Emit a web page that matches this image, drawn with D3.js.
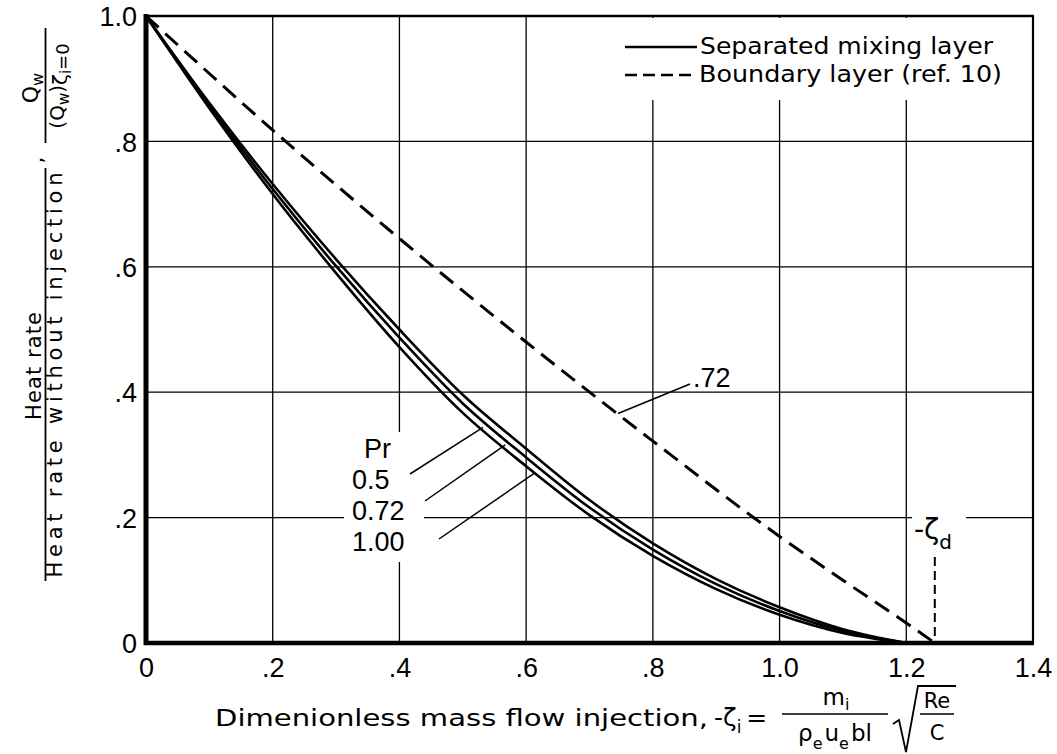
<!DOCTYPE html>
<html>
<head>
<meta charset="utf-8" />
<title>Heat rate vs injection</title>
<script src="https://d3js.org/d3.v7.min.js"></script>
<style>
body{margin:0;background:#fff;}
text{font-family:"Liberation Sans",Arial,sans-serif;fill:#000;}
text.lbl{font-family:"DejaVu Sans",sans-serif;}
</style>
</head>
<body>
<div id="chart"></div>
<script>
// tick values and labels
var xTicks=[0,0.2,0.4,0.6,0.8,1.0,1.2,1.4];
var xTickLabels=["0",".2",".4",".6",".8","1.0","1.2","1.4"];
var yTicks=[0,0.2,0.4,0.6,0.8,1.0];
var yTickLabels=["0",".2",".4",".6",".8","1.0"];

// separated mixing layer, one curve per Prandtl number
var zeta=[0,0.1,0.2,0.3,0.4,0.5,0.6,0.7,0.8,0.9,1.0,1.1,1.2];
var pr050=[1,0.861,0.732,0.612,0.5,0.396,0.31,0.228,0.159,0.102,0.057,0.022,0];
var pr072=[1,0.857,0.724,0.601,0.487,0.382,0.296,0.216,0.149,0.094,0.051,0.019,0];
var pr100=[1,0.853,0.716,0.59,0.472,0.367,0.282,0.204,0.139,0.086,0.045,0.016,0];
var prNames=["0.5","0.72","1.00"];
var prTips=[[0.532,0.344],[0.567,0.316],[0.612,0.27]];

// boundary layer (ref. 10), Pr = .72
var blZeta=[0,0.2,0.4,0.6,0.8,1.0,1.1,1.2,1.245];
var blRatio=[1,0.818,0.645,0.48,0.322,0.17,0.1,0.032,0];
var blTip=[0.745,0.366];
var zetaD=1.245;

var W=1057,H=754;
var x=d3.scaleLinear().domain([0,1.4]).range([146,1033]);
var y=d3.scaleLinear().domain([0,1]).range([643,16]);

var svg=d3.select("#chart").append("svg").attr("width",W).attr("height",H);
svg.append("rect").attr("width",W).attr("height",H).attr("fill","#fff");

// grid
svg.append("g").selectAll("line").data(xTicks.slice(1,-1)).enter().append("line")
	.attr("x1",d=>x(d)).attr("x2",d=>x(d)).attr("y1",y(1)).attr("y2",y(0))
	.attr("stroke","#000").attr("stroke-width",1.3);
svg.append("g").selectAll("line").data(yTicks.slice(1,-1)).enter().append("line")
	.attr("x1",x(0)).attr("x2",x(1.4)).attr("y1",d=>y(d)).attr("y2",d=>y(d))
	.attr("stroke","#000").attr("stroke-width",1.3);

// white patches under legend and labels
svg.append("rect").attr("x",615).attr("y",18).attr("width",416).attr("height",82).attr("fill","#fff");
svg.append("rect").attr("x",344).attr("y",432).attr("width",80).attr("height",130).attr("fill","#fff");
svg.append("rect").attr("x",912).attr("y",510).attr("width",54).attr("height",46).attr("fill","#fff");

// frame
svg.append("line").attr("x1",x(0)).attr("x2",x(0)).attr("y1",y(1)-2).attr("y2",y(0)+2).attr("stroke","#000").attr("stroke-width",5);
svg.append("line").attr("x1",x(0)-2).attr("x2",x(1.4)+1).attr("y1",y(0)).attr("y2",y(0)).attr("stroke","#000").attr("stroke-width",4.5);
svg.append("line").attr("x1",x(0)).attr("x2",x(1.4)+1).attr("y1",y(1)).attr("y2",y(1)).attr("stroke","#000").attr("stroke-width",2.5);
svg.append("line").attr("x1",x(1.4)).attr("x2",x(1.4)).attr("y1",y(1)).attr("y2",y(0)).attr("stroke","#000").attr("stroke-width",2.2);

// axes labels
var xAxis=d3.axisBottom(x).tickValues(xTicks).tickFormat((d,i)=>xTickLabels[i]).tickSize(0).tickPadding(0);
var gx=svg.append("g").attr("transform","translate(0,"+y(0)+")").call(xAxis);
gx.select(".domain").remove();
gx.attr("font-size",27).attr("font-family","Liberation Sans, Arial, sans-serif");
gx.selectAll("text").attr("y",34).attr("dy",null).attr("fill","#000");

var yAxis=d3.axisLeft(y).tickValues(yTicks).tickFormat((d,i)=>yTickLabels[i]).tickSize(0).tickPadding(0);
var gy=svg.append("g").attr("transform","translate("+(x(0)-9)+",0)").call(yAxis);
gy.select(".domain").remove();
gy.attr("font-size",27).attr("font-family","Liberation Sans, Arial, sans-serif");
gy.selectAll("text").attr("x",0).attr("dy","0.36em").attr("fill","#000");

// curves
var line=d3.line().x(d=>x(d[0])).y(d=>y(d[1])).curve(d3.curveMonotoneX);
[pr050,pr072,pr100].forEach(function(s){
	svg.append("path").datum(zeta.map((z,i)=>[z,s[i]]))
		.attr("d",line).attr("fill","none").attr("stroke","#000").attr("stroke-width",2.6);
});
svg.append("path").datum(blZeta.map((z,i)=>[z,blRatio[i]]))
	.attr("d",line).attr("fill","none").attr("stroke","#000").attr("stroke-width",3)
	.attr("stroke-dasharray","17,9");

// zeta_d marker
svg.append("line").attr("x1",x(zetaD)).attr("x2",x(zetaD)).attr("y1",557).attr("y2",y(0))
	.attr("stroke","#000").attr("stroke-width",2).attr("stroke-dasharray","9,5");
var zd=svg.append("text").attr("class","lbl").attr("x",914).attr("y",539).attr("font-size",28);
zd.append("tspan").text("-ζ");
zd.append("tspan").attr("dy",10).attr("font-size",20).text("d");

// Pr labels and leaders
svg.append("text").attr("x",364).attr("y",458).attr("font-size",27).text("Pr");
var prLabelY=[489,520,551];
var prStart=[[410,474],[425,501],[439,539]];
prNames.forEach(function(n,i){
	svg.append("text").attr("x",352).attr("y",prLabelY[i]).attr("font-size",27).text(n);
	svg.append("line").attr("x1",prStart[i][0]).attr("y1",prStart[i][1])
		.attr("x2",x(prTips[i][0])).attr("y2",y(prTips[i][1]))
		.attr("stroke","#000").attr("stroke-width",1.5);
});
svg.append("line").attr("x1",x(blTip[0])).attr("y1",y(blTip[1])).attr("x2",690).attr("y2",384)
	.attr("stroke","#000").attr("stroke-width",1.5);
svg.append("text").attr("x",693).attr("y",387).attr("font-size",27).text(".72");

// legend
svg.append("line").attr("x1",625).attr("x2",697).attr("y1",47).attr("y2",47).attr("stroke","#000").attr("stroke-width",2.5);
svg.append("line").attr("x1",625).attr("x2",697).attr("y1",75).attr("y2",75).attr("stroke","#000").attr("stroke-width",2.5).attr("stroke-dasharray","12,6");
svg.append("text").attr("class","lbl").attr("x",700).attr("y",54).attr("font-size",23).attr("textLength",293).attr("lengthAdjust","spacingAndGlyphs").text("Separated mixing layer");
svg.append("text").attr("class","lbl").attr("x",699).attr("y",82).attr("font-size",23).attr("textLength",303).attr("lengthAdjust","spacingAndGlyphs").text("Boundary layer (ref. 10)");

// y axis title
function vtext(cx,cy,size,len){
	var t=svg.append("text").attr("class","lbl").attr("transform","translate("+cx+","+cy+") rotate(-90)")
		.attr("text-anchor","middle").attr("font-size",size);
	if(len) t.attr("textLength",len).attr("lengthAdjust","spacing");
	return t;
}
vtext(41,366,21,108).text("Heat rate");
vtext(62,375,21,405).text("Heat rate without injection");
svg.append("line").attr("x1",45.5).attr("x2",45.5).attr("y1",168).attr("y2",581).attr("stroke","#000").attr("stroke-width",1.8);
vtext(43,160,22).text(",");
svg.append("line").attr("x1",45.5).attr("x2",45.5).attr("y1",28).attr("y2",143).attr("stroke","#000").attr("stroke-width",1.8);
var qn=vtext(38,88,22);
qn.append("tspan").text("Q");
qn.append("tspan").attr("dy",5).attr("font-size",16).text("w");
var qd=vtext(64,86,20);
qd.append("tspan").text("(Q");
qd.append("tspan").attr("dy",5).attr("font-size",15).text("w");
qd.append("tspan").attr("dy",-5).text(")");
qd.append("tspan").attr("dy",3).text("ζ");
qd.append("tspan").attr("dy",4).attr("font-size",15).text("i");
qd.append("tspan").attr("dy",-2).attr("font-size",18).text("=0");

// x axis title
svg.append("text").attr("class","lbl").attr("x",215).attr("y",726).attr("font-size",23)
	.attr("textLength",493).attr("lengthAdjust","spacingAndGlyphs").text("Dimenionless mass flow injection,");
var zi=svg.append("text").attr("class","lbl").attr("x",714).attr("y",726).attr("font-size",25);
zi.append("tspan").text("-ζ");
zi.append("tspan").attr("dy",7).attr("font-size",17).text("i");
zi.append("tspan").attr("dy",-7).attr("dx",5).text("=");
var num=svg.append("text").attr("class","lbl").attr("x",836).attr("y",705).attr("font-size",23).attr("text-anchor","middle");
num.append("tspan").text("m");
num.append("tspan").attr("dy",5).attr("font-size",16).text("i");
svg.append("line").attr("x1",782).attr("x2",888).attr("y1",714).attr("y2",714).attr("stroke","#000").attr("stroke-width",1.6);
var den=svg.append("text").attr("class","lbl").attr("x",835).attr("y",741).attr("font-size",23).attr("text-anchor","middle");
den.append("tspan").text("ρ");
den.append("tspan").attr("dy",8).attr("font-size",16).text("e");
den.append("tspan").attr("dy",-8).attr("dx",2).text("u");
den.append("tspan").attr("dy",8).attr("font-size",16).text("e");
den.append("tspan").attr("dy",-8).attr("dx",2).text("bl");
svg.append("path").attr("d","M893,724 L899,720 L906,752 L918,686 L956,686")
	.attr("fill","none").attr("stroke","#000").attr("stroke-width",1.8);
svg.append("text").attr("class","lbl").attr("x",937).attr("y",708).attr("font-size",21).attr("text-anchor","middle").text("Re");
svg.append("line").attr("x1",920).attr("x2",954).attr("y1",714).attr("y2",714).attr("stroke","#000").attr("stroke-width",1.6);
svg.append("text").attr("class","lbl").attr("x",937).attr("y",740).attr("font-size",21).attr("text-anchor","middle").text("C");
</script>
</body>
</html>
